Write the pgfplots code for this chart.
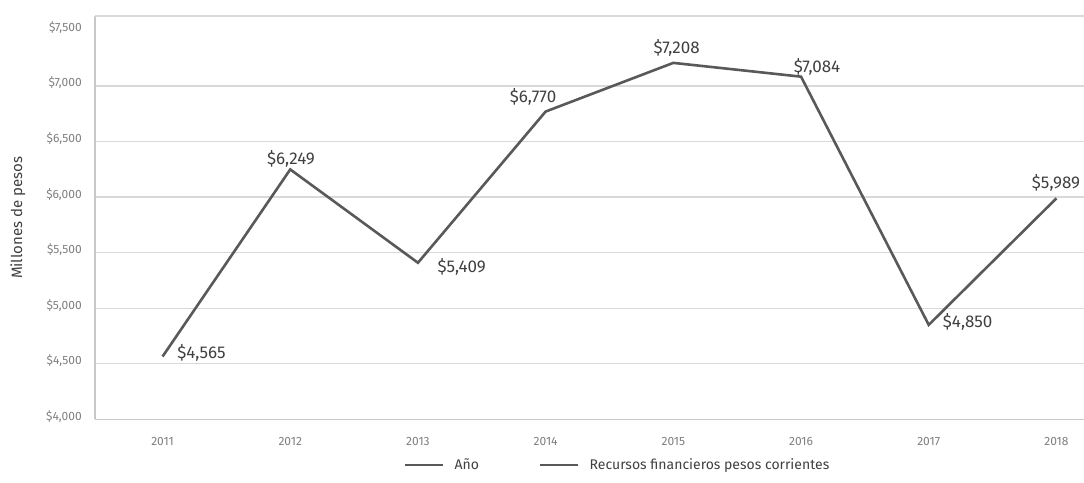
\documentclass[border=0pt]{standalone}
\usepackage{fontspec}
\setmainfont{Fira Sans}
\usepackage{pgfplots}
\pgfplotsset{compat=1.18}
\definecolor{linegray}{HTML}{595959}
\definecolor{labgray}{HTML}{404040}
\definecolor{tickgray}{HTML}{7F7F7F}
\definecolor{gridgray}{HTML}{D9D9D9}
\definecolor{axisgray}{HTML}{C8C8C8}
\tikzset{lab/.style={font=\fontsize{17}{20}\selectfont, text=labgray, inner sep=0pt}}
\begin{document}
\begin{tikzpicture}
\path[use as bounding box] (-95pt,-62.7pt) rectangle (989pt,419.3pt);
\begin{axis}[
  at={(0pt,0pt)}, anchor=south west,
  scale only axis, width=989pt, height=403.3pt,
  xmin=2010.471, xmax=2018.216, ymin=4000, ymax=7630,
  clip=false,
  axis lines=left,
  axis line style={-, draw=axisgray, line width=1.2pt},
  major tick length=0pt,
  xtick={2011,2012,2013,2014,2015,2016,2017,2018},
  xticklabels={2011,2012,2013,2014,2015,2016,2017,2018},
  ytick={4000,4500,5000,5500,6000,6500,7000},
  extra y ticks={7500},
  extra y tick style={grid=none},
  ymajorgrids,
  major grid style={draw=gridgray, line width=1.2pt},
  yticklabel={\$\pgfmathprintnumber{\tick}},
  /pgf/number format/1000 sep={,},
  /pgf/number format/assume math mode=true,
  yticklabel style={font=\fontsize{12}{14}\selectfont, text=tickgray, inner sep=0pt, xshift=-13pt, yshift=3pt},
  xticklabel style={font=\fontsize{12}{14}\selectfont, text=tickgray, inner sep=0pt, anchor=center, yshift=-21.7pt},
  ylabel={Millones de pesos},
  ylabel style={at={(axis description cs:-0.0779,0.4995)}, anchor=center, font=\fontsize{15}{17}\selectfont, text=labgray},
  legend style={draw=none, fill=none, at={(0.5285,-0.1133)}, anchor=center,
    font=\fontsize{14}{17}\selectfont, text=labgray,
    /tikz/every even column/.append style={column sep=58pt}},
  legend columns=2,
  legend image code/.code={\draw[#1] (0pt,0pt) -- (38pt,0pt); \path (46pt,0pt);},
]
\addlegendimage{draw=linegray, line width=2.6pt}
\addlegendentry{Año}
\addplot[draw=linegray, line width=2.6pt, mark=none] coordinates {
  (2011,4565) (2012,6249) (2013,5409) (2014,6770)
  (2015,7208) (2016,7084) (2017,4850) (2018,5989)
};
\addlegendentry{Recursos financieros pesos corrientes}
\draw[draw=gridgray, line width=1.2pt] (rel axis cs:0,1) -- (rel axis cs:1,1);
\node[lab, anchor=west, xshift=14.5pt, yshift=3.5pt] at (axis cs:2011,4565) {\$4,565};
\node[lab, xshift=0.8pt, yshift=10.4pt] at (axis cs:2012,6249) {\$6,249};
\node[lab, anchor=west, xshift=19.4pt, yshift=-4.3pt] at (axis cs:2013,5409) {\$5,409};
\node[lab, xshift=-12.6pt, yshift=14.8pt] at (axis cs:2014,6770) {\$6,770};
\node[lab, xshift=3.4pt, yshift=14.6pt] at (axis cs:2015,7208) {\$7,208};
\node[lab, xshift=16pt, yshift=9.6pt] at (axis cs:2016,7084) {\$7,084};
\node[lab, anchor=west, xshift=14pt, yshift=2.6pt] at (axis cs:2017,4850) {\$4,850};
\node[lab, xshift=-0.4pt, yshift=15.6pt] at (axis cs:2018,5989) {\$5,989};
\end{axis}
\end{tikzpicture}
\end{document}
